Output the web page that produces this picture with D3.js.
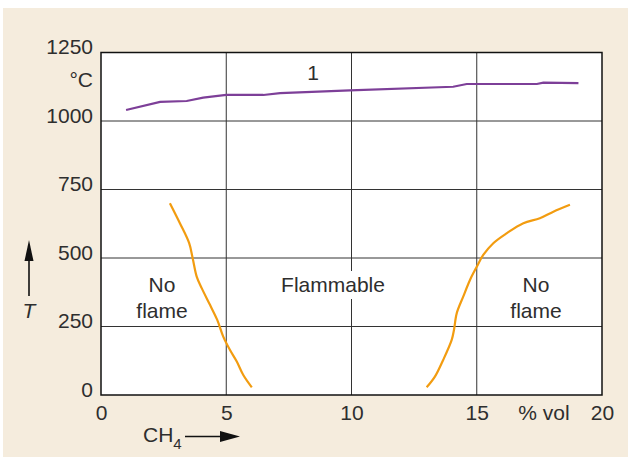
<!DOCTYPE html>
<html><head><meta charset="utf-8">
<script src="https://cdn.jsdelivr.net/npm/d3@7"></script>
<style>body{margin:0;background:#fff}svg{display:block}text{font-family:"Liberation Sans",Arial,sans-serif;fill:#2e2e2e}</style>
</head><body><svg id="c" width="628" height="457"></svg>
<script>
const xTicks = [0, 5, 10, 15, 20];
const xTickLabels = ["0", "5", "10", "15", "20"];
const yTicks = [0, 250, 500, 750, 1000, 1250];
const yTickLabels = ["0", "250", "500", "750", "1000", "1250"];
// curve 1: flame temperature
const tempX = [1.0, 2.36, 3.42, 4.08, 5.0, 6.48, 7.15, 9.94, 14.06, 14.6, 17.4, 17.66, 19.06];
const tempY = [1040, 1070, 1073, 1085, 1095, 1095, 1102, 1112, 1125, 1135, 1135, 1140, 1138];
// lower flammability limit
const lowerX = [2.75, 3.15, 3.52, 3.66, 3.82, 4.02, 4.35, 4.64, 4.88, 5.15, 5.42, 5.68, 6.02];
const lowerY = [700, 627, 554, 499, 432, 390, 329, 274, 213, 164, 122, 73, 28];
// upper flammability limit
const upperX = [13.0, 13.33, 13.66, 14.0, 14.09, 14.2, 14.46, 14.73, 15.0, 15.26, 15.66, 16.19, 16.86, 17.52, 18.06, 18.72];
const upperY = [28, 67, 128, 201, 237, 298, 359, 420, 468, 511, 554, 590, 627, 645, 669, 694];

const svg = d3.select("#c");
svg.append("rect").attr("x", 3).attr("y", 8).attr("width", 625).attr("height", 449).attr("fill", "#f5ecdd");

const x = d3.scaleLinear().domain([0, 20]).range([101, 602]);
const y = d3.scaleLinear().domain([0, 1250]).range([395, 52.5]);

svg.append("rect").attr("x", x(0)).attr("y", y(1250)).attr("width", x(20) - x(0)).attr("height", y(0) - y(1250)).attr("fill", "#fff");

// grid
const g = svg.append("g");
g.selectAll(".vg").data(xTicks.slice(1, -1)).join("line")
  .attr("x1", d => x(d)).attr("x2", d => x(d)).attr("y1", y(0)).attr("y2", y(1250))
  .attr("stroke", "#333").attr("stroke-width", 1);
g.selectAll(".hg").data(yTicks.slice(1, -1)).join("line")
  .attr("y1", d => y(d)).attr("y2", d => y(d)).attr("x1", x(0)).attr("x2", x(20))
  .attr("stroke", "#333").attr("stroke-width", 1);

// axes labels using d3 axes (no domain/ticks lines)
const xAxis = svg.append("g").attr("transform", `translate(0,${y(0)})`)
  .call(d3.axisBottom(x).tickValues(xTicks).tickFormat((d, i) => xTickLabels[i]).tickSize(0).tickPadding(10));
xAxis.select(".domain").remove();
xAxis.selectAll("text").attr("font-size", 21).attr("font-family", "Liberation Sans, Arial, sans-serif").attr("fill", "#2e2e2e");

const yAxis = svg.append("g").attr("transform", `translate(${x(0)},0)`)
  .call(d3.axisLeft(y).tickValues(yTicks).tickFormat((d, i) => yTickLabels[i]).tickSize(0).tickPadding(8));
yAxis.select(".domain").remove();
yAxis.selectAll("text").attr("font-size", 21).attr("dy", "0.05em").attr("font-family", "Liberation Sans, Arial, sans-serif").attr("fill", "#2e2e2e");

// white knock-out behind the central label
svg.append("rect").attr("x", 279).attr("y", 271).attr("width", 108).attr("height", 28).attr("fill", "#fff");

// lines
svg.append("path").datum(d3.zip(tempX, tempY)).attr("d", d3.line().x(d => x(d[0])).y(d => y(d[1])))
  .attr("fill", "none").attr("stroke", "#7d3f98").attr("stroke-width", 2.2);
const lineY = d3.line().x(d => x(d[0])).y(d => y(d[1])).curve(d3.curveCatmullRom);
svg.append("path").datum(d3.zip(lowerX, lowerY)).attr("d", lineY)
  .attr("fill", "none").attr("stroke", "#f29c10").attr("stroke-width", 2.2);
svg.append("path").datum(d3.zip(upperX, upperY)).attr("d", lineY)
  .attr("fill", "none").attr("stroke", "#f29c10").attr("stroke-width", 2.2);

// border
svg.append("rect").attr("x", x(0)).attr("y", y(1250)).attr("width", x(20) - x(0)).attr("height", y(0) - y(1250))
  .attr("fill", "none").attr("stroke", "#111").attr("stroke-width", 1.5);

// texts
const T = (tx, ty, s, anchor, size, extra) => {
  const t = svg.append("text").attr("x", tx).attr("y", ty).attr("text-anchor", anchor || "middle").attr("font-size", size || 21).text(s);
  if (extra) extra(t);
  return t;
};
T(93, 87, "°C", "end");
T(313, 80, "1");
T(162, 292, "No");
T(162, 318, "flame");
T(333, 292, "Flammable");
T(536, 292, "No");
T(536, 318, "flame");
T(544, 420, "% vol");
T(29, 318, "T", "middle", 21, t => t.attr("font-style", "italic"));

// T arrow
svg.append("line").attr("x1", 29).attr("x2", 29).attr("y1", 296).attr("y2", 258).attr("stroke", "#111").attr("stroke-width", 1.6);
svg.append("path").attr("d", "M29,240 L24.5,261 L33.5,261 Z").attr("fill", "#111");

// CH4 label and arrow
const ch = svg.append("text").attr("x", 143).attr("y", 442).attr("font-size", 21);
ch.append("tspan").text("CH");
ch.append("tspan").attr("font-size", 15).attr("dy", 7).text("4");
svg.append("line").attr("x1", 185).attr("x2", 222).attr("y1", 436.5).attr("y2", 436.5).attr("stroke", "#111").attr("stroke-width", 1.6);
svg.append("path").attr("d", "M240,436.5 L220,431 L220,442 Z").attr("fill", "#111");
</script></body></html>
